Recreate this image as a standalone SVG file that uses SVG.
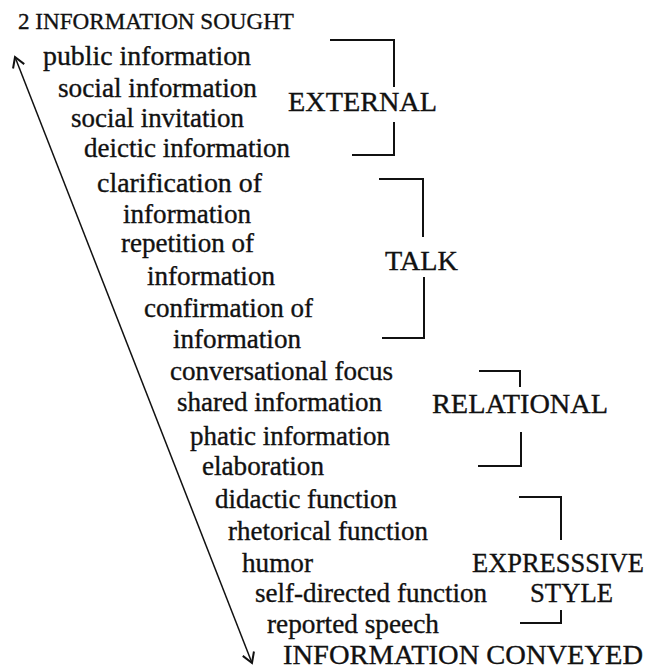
<svg xmlns="http://www.w3.org/2000/svg" width="651" height="669" viewBox="0 0 651 669">
  <style>
    text { font-family: "Liberation Serif", "DejaVu Serif", "Times New Roman", serif; fill: #111; stroke: #111; stroke-width: 0.35; }
    .item { font-size: 27px; }
    .cat { font-size: 27.5px; }
    .title { font-size: 23.5px; }
    .bottom { font-size: 28px; }
    .bracket { fill: none; stroke: #111; stroke-width: 2; }
    .axis { fill: none; stroke: #111; stroke-width: 1.5; }
  </style>
  <defs>
    <marker id="head" viewBox="-12 -8 14 16" markerWidth="14" markerHeight="16" refX="0" refY="0" orient="auto-start-reverse" markerUnits="userSpaceOnUse">
      <path d="M-10,-6 L0,0 L-10,6" fill="none" stroke="#111" stroke-width="2"/>
    </marker>
  </defs>

  <!-- axis from sought to conveyed, and the group brackets -->
  <g id="connectors">
    <line class="axis" x1="15" y1="57" x2="252" y2="663" marker-start="url(#head)" marker-end="url(#head)"/>
    <path class="bracket" d="M330,40 H394 V87"/>
    <path class="bracket" d="M394,122 V155 H352"/>
    <path class="bracket" d="M379,179 H423 V237"/>
    <path class="bracket" d="M424,277 V338 H382"/>
    <path class="bracket" d="M479,371 H520 V387"/>
    <path class="bracket" d="M521,432 V466 H478"/>
    <path class="bracket" d="M519,497 H561 V540"/>
    <path class="bracket" d="M561,610 V623 H520"/>
  </g>

  <g id="title-sought"><text class="title" x="18" y="29" textLength="276" lengthAdjust="spacingAndGlyphs">2 INFORMATION SOUGHT</text></g>
  <g id="title-conveyed"><text class="bottom" x="283" y="664" textLength="360" lengthAdjust="spacingAndGlyphs">INFORMATION CONVEYED</text></g>

  <g id="items">
    <text class="item" x="43" y="65" textLength="208" lengthAdjust="spacingAndGlyphs">public information</text>
    <text class="item" x="58" y="97" textLength="199" lengthAdjust="spacingAndGlyphs">social information</text>
    <text class="item" x="71" y="127" textLength="173" lengthAdjust="spacingAndGlyphs">social invitation</text>
    <text class="item" x="84" y="157" textLength="206" lengthAdjust="spacingAndGlyphs">deictic information</text>
    <text class="item" x="97" y="192" textLength="165" lengthAdjust="spacingAndGlyphs">clarification of</text>
    <text class="item" x="123" y="223" textLength="128" lengthAdjust="spacingAndGlyphs">information</text>
    <text class="item" x="121" y="252" textLength="133" lengthAdjust="spacingAndGlyphs">repetition of</text>
    <text class="item" x="147" y="285" textLength="128" lengthAdjust="spacingAndGlyphs">information</text>
    <text class="item" x="144" y="317" textLength="169" lengthAdjust="spacingAndGlyphs">confirmation of</text>
    <text class="item" x="173" y="348" textLength="128" lengthAdjust="spacingAndGlyphs">information</text>
    <text class="item" x="170" y="380" textLength="223" lengthAdjust="spacingAndGlyphs">conversational focus</text>
    <text class="item" x="177" y="411" textLength="205" lengthAdjust="spacingAndGlyphs">shared information</text>
    <text class="item" x="190" y="445" textLength="200" lengthAdjust="spacingAndGlyphs">phatic information</text>
    <text class="item" x="202" y="475" textLength="122" lengthAdjust="spacingAndGlyphs">elaboration</text>
    <text class="item" x="215" y="508" textLength="182" lengthAdjust="spacingAndGlyphs">didactic function</text>
    <text class="item" x="228" y="540" textLength="200" lengthAdjust="spacingAndGlyphs">rhetorical function</text>
    <text class="item" x="242" y="572" textLength="71" lengthAdjust="spacingAndGlyphs">humor</text>
    <text class="item" x="255" y="602" textLength="232" lengthAdjust="spacingAndGlyphs">self-directed function</text>
    <text class="item" x="267" y="633" textLength="172" lengthAdjust="spacingAndGlyphs">reported speech</text>
  </g>

  <g id="external"><text class="cat" x="288" y="111" textLength="149" lengthAdjust="spacingAndGlyphs">EXTERNAL</text></g>
  <g id="talk"><text class="cat" x="385" y="270" textLength="73" lengthAdjust="spacingAndGlyphs">TALK</text></g>
  <g id="relational"><text class="cat" x="432" y="413" textLength="176" lengthAdjust="spacingAndGlyphs">RELATIONAL</text></g>
  <g id="expressive-style">
    <text class="cat" x="472" y="572" textLength="172" lengthAdjust="spacingAndGlyphs">EXPRESSSIVE</text>
    <text class="cat" x="530" y="602" textLength="83" lengthAdjust="spacingAndGlyphs">STYLE</text>
  </g>
</svg>
